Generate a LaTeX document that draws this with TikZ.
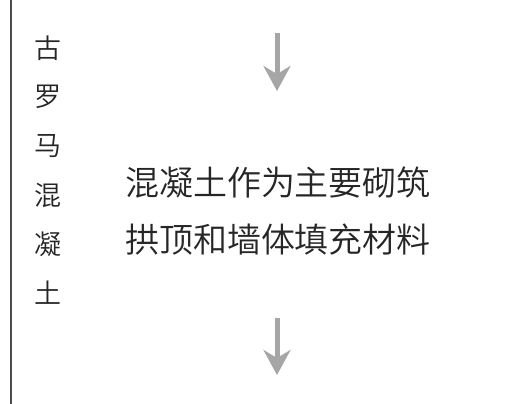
\documentclass[tikz,border=0pt]{standalone}
\usepackage{fontspec}
\newfontfamily\cjk{Noto Sans CJK SC DemiLight}
\usepackage{tikz}
\usetikzlibrary{arrows.meta}

\begin{document}
\begin{tikzpicture}[x=1pt,y=-1pt,
  sidechar/.style={font=\cjk\fontsize{27}{27}\selectfont,text=black!85,inner sep=0pt},
  mainline/.style={font=\cjk\fontsize{34}{34}\selectfont,text=black!85,inner sep=0pt},
  downarrow/.style={draw=black!35,line width=5pt,-{Stealth[length=25pt,width=27pt,inset=8pt]}}]
\useasboundingbox (0,0) rectangle (515,404);
\fill[white] (0,0) rectangle (515,404);
\draw[black!70,line width=1.6pt] (11,0) -- (11,404);

\def\gap{49}
\foreach \c [count=\i] in {古,罗,马,混,凝,土}
  \node[sidechar] (side\i) at (48,{48+\gap*(\i-1)}) {\c};

\node[mainline] (line1) at (278,183) {混凝土作为主要砌筑};
\node[mainline] (line2) at (278,240) {拱顶和墙体填充材料};

\coordinate (topstart) at (277,33);
\coordinate (topend) at (277,91);
\coordinate (botstart) at (277,318);
\coordinate (botend) at (277,375);
\draw[downarrow] (topstart) -- (topend);
\draw[downarrow] (botstart) -- (botend);
\end{tikzpicture}
\end{document}
